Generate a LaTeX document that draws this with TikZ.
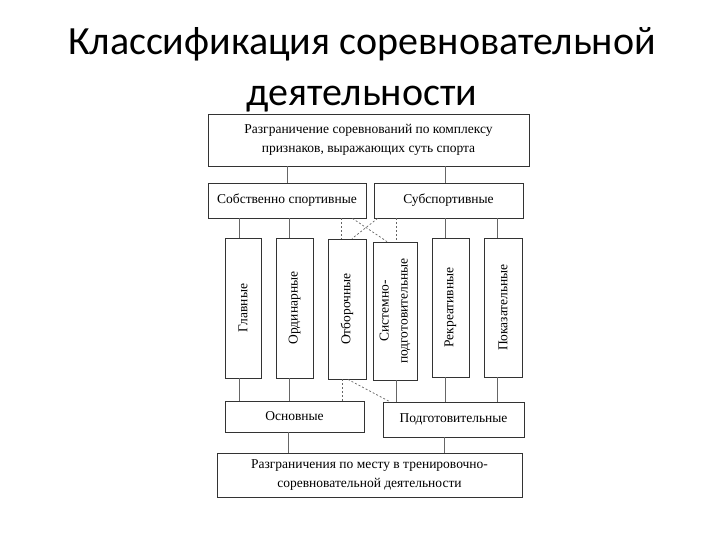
\documentclass[tikz,border=0pt]{standalone}
\usepackage{fontspec}
\setmainfont{Liberation Serif}
\newfontfamily\titlefont{Carlito}
\definecolor{boxline}{HTML}{333333}
\definecolor{conline}{HTML}{666666}
\begin{document}
\begin{tikzpicture}[x=1pt,y=-1pt,
  box/.style={draw=boxline, line width=0.8pt, inner sep=1pt, align=center, font=\fontsize{13.5}{19}\selectfont},
  vlabel/.style={rotate=90, align=center, font=\fontsize{13.5}{19}\selectfont},
  con/.style={draw=conline, line width=0.7pt},
  dcon/.style={draw=conline, line width=0.7pt, dash pattern=on 2pt off 2pt}]
\useasboundingbox (0,0) rectangle (720,540);
\fill[white] (0,0) rectangle (720,540);
\node[font=\titlefont\fontsize{40}{51}\selectfont, align=center] (title) at (362,70) {Классификация соревновательной\\деятельности};
% boxes
\node[box, minimum width=321pt, minimum height=52pt] (top) at (368.5,140) {Разграничение соревнований по комплексу\\признаков, выражающих суть спорта};
\node[box, minimum width=158pt, minimum height=35pt] (sob) at (287,200.5) {Собственно спортивные};
\node[box, minimum width=149pt, minimum height=35pt] (sub) at (448.5,200.5) {Субспортивные};
\node[box, minimum width=36pt, minimum height=140pt] (gl) at (243,308) {};
\node[box, minimum width=37pt, minimum height=140pt] (ord) at (294.5,308) {};
\node[box, minimum width=38pt, minimum height=140pt] (otb) at (347,309) {};
\node[box, minimum width=44pt, minimum height=138pt] (sis) at (395,311) {};
\node[box, minimum width=37pt, minimum height=139pt] (rek) at (450.5,307.5) {};
\node[box, minimum width=38pt, minimum height=139pt] (pok) at (503,307.5) {};
\node[vlabel] (gll) at (gl.center) {Главные};
\node[vlabel] (ordl) at (ord.center) {Ординарные};
\node[vlabel] (otbl) at (otb.center) {Отборочные};
\node[vlabel] (sisl) at (sis.center) {Системно-\\подготовительные};
\node[vlabel] (rekl) at (rek.center) {Рекреативные};
\node[vlabel] (pokl) at (pok.center) {Показательные};
\node[box, minimum width=139pt, minimum height=31pt] (osn) at (294.5,416.5) {Основные};
\node[box, minimum width=141pt, minimum height=35pt] (pod) at (453.5,419.5) {Подготовительные};
\node[box, minimum width=305pt, minimum height=44pt] (bot) at (369.5,475) {Разграничения по месту в тренировочно-\\соревновательной деятельности};
% connectors top -> row 2
\draw[con] (top.south -| sob.north) -- (sob.north);
\draw[con] ([xshift=-3pt]top.south -| sub.north) -- ([xshift=-3pt]sub.north);
% row 2 -> vertical boxes
\draw[con] ([xshift=-4pt]sob.south -| gl.north) -- ([xshift=-4pt]gl.north);
\draw[con] ([xshift=-5pt]sob.south -| ord.north) -- ([xshift=-5pt]ord.north);
\draw[dcon] ([xshift=-6pt]sob.south -| otb.north) -- ([xshift=-6pt]otb.north);
\draw[dcon] ([xshift=1pt]sub.south -| sis.north) -- ([xshift=1pt]sis.north);
\draw[con] ([xshift=-5pt]sub.south -| rek.north) -- ([xshift=-5pt]rek.north);
\draw[con] ([xshift=-6pt]sub.south -| pok.north) -- ([xshift=-6pt]pok.north);
\draw[dcon] ([xshift=-14pt]sob.south east) -- ([xshift=-8pt]sis.north);
\draw[dcon] ([xshift=4pt]sub.south west) -- ([xshift=5pt]otb.north);
% vertical boxes -> bottom row
\draw[con] ([xshift=-4pt]gl.south) -- ([xshift=-4pt]gl.south |- osn.north);
\draw[con] ([xshift=-5pt]ord.south) -- ([xshift=-5pt]ord.south |- osn.north);
\draw[dcon] ([xshift=-5pt]otb.south) -- ([xshift=-5pt]otb.south |- osn.north);
\draw[dcon] ([xshift=1pt]otb.south) -- ([xshift=7pt]pod.north west);
\draw[con] ([xshift=1pt]sis.south) -- ([xshift=1pt]sis.south |- pod.north);
\draw[con] ([xshift=-5pt]rek.south) -- ([xshift=-5pt]rek.south |- pod.north);
\draw[con] ([xshift=-6pt]pok.south) -- ([xshift=-6pt]pok.south |- pod.north);
% bottom row -> bottom box
\draw[con] ([xshift=-6pt]osn.south) -- ([xshift=-6pt]osn.south |- bot.north);
\draw[con] ([xshift=-9pt]pod.south) -- ([xshift=-9pt]pod.south |- bot.north);
\end{tikzpicture}
\end{document}
